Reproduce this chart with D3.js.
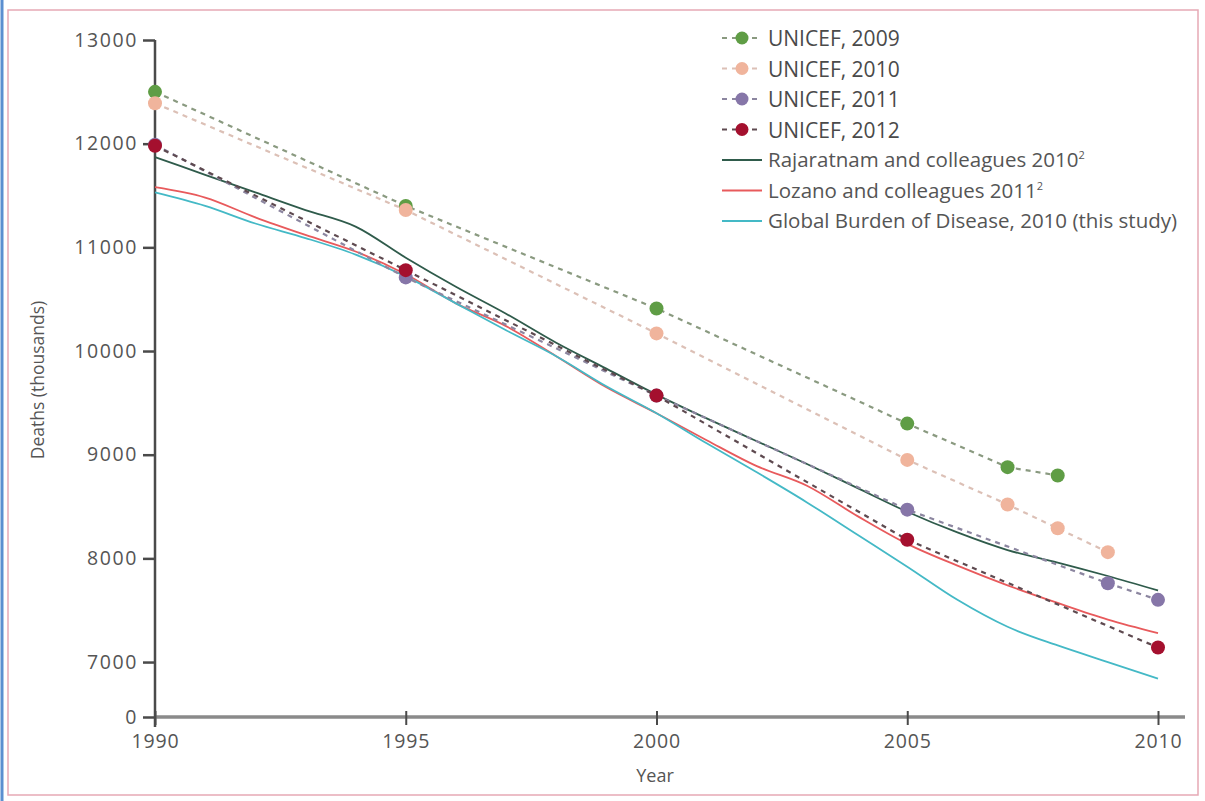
<!DOCTYPE html>
<html>
<head>
<meta charset="utf-8">
<script src="https://cdn.jsdelivr.net/npm/d3@7"></script>
<style>
  body { margin: 0; background: #fff; }
  text { font-family: "Open Sans", Lato, sans-serif; }
</style>
</head>
<body>
<div id="canvas"></div>
<script>
// data (deaths in thousands)
const years = [1990,1991,1992,1993,1994,1995,1996,1997,1998,1999,2000,2001,2002,2003,2004,2005,2006,2007,2008,2009,2010];

const unicef2009Years = [1990, 1995, 2000, 2005, 2007, 2008];
const unicef2009 = [12500, 11400, 10410, 9300, 8880, 8800];
const unicef2010Years = [1990, 1995, 2000, 2005, 2007, 2008, 2009];
const unicef2010 = [12390, 11360, 10170, 8950, 8520, 8290, 8060];
const unicef2011Years = [1990, 1995, 2000, 2005, 2009, 2010];
const unicef2011 = [11990, 10710, 9570, 8470, 7760, 7600];
const unicef2012Years = [1990, 1995, 2000, 2005, 2010];
const unicef2012 = [11980, 10780, 9570, 8180, 7140];

const rajaratnam = [11870,11700,11530,11360,11200,10900,10620,10360,10080,9830,9580,9350,9130,8910,8680,8450,8250,8080,7960,7830,7690];
const lozano = [11580,11480,11290,11120,10960,10740,10460,10240,9950,9650,9400,9140,8890,8700,8410,8140,7930,7740,7570,7410,7280];
const gbd = [11530,11400,11230,11090,10930,10720,10460,10200,9950,9660,9400,9110,8830,8540,8230,7920,7600,7340,7160,7000,6840];

const yTicks = [0, 7000, 8000, 9000, 10000, 11000, 12000, 13000];
const xTicks = [1990, 1995, 2000, 2005, 2010];
const yBreak = 6470; // where the "0" sits on the broken axis

const dashedSeries = [
  { name: "UNICEF, 2009", years: unicef2009Years, values: unicef2009, fill: "#5f9d45", line: "#8a9a80" },
  { name: "UNICEF, 2010", years: unicef2010Years, values: unicef2010, fill: "#f0b49c", line: "#dcc0b6" },
  { name: "UNICEF, 2011", years: unicef2011Years, values: unicef2011, fill: "#8676a8", line: "#8c86a0" },
  { name: "UNICEF, 2012", years: unicef2012Years, values: unicef2012, fill: "#a4102e", line: "#5e4a50" }
];
const solidSeries = [
  { name: "Rajaratnam and colleagues 2010", sup: "2", values: rajaratnam, color: "#2f5b4b" },
  { name: "Lozano and colleagues 2011", sup: "2", values: lozano, color: "#e85a5c" },
  { name: "Global Burden of Disease, 2010 (this study)", sup: "", values: gbd, color: "#44b9c6" }
];

const width = 1205, height = 801;
const svg = d3.select("#canvas").append("svg").attr("width", width).attr("height", height);

// frame
svg.append("rect").attr("x", 8).attr("y", 10).attr("width", 1190).attr("height", 785)
  .attr("fill", "none").attr("stroke", "#e6a9b5").attr("stroke-width", 1.5);
svg.append("line").attr("x1", 2).attr("x2", 2).attr("y1", 0).attr("y2", height)
  .attr("stroke", "#5b8fd0").attr("stroke-width", 3);

const x = d3.scaleLinear().domain([1990, 2010]).range([155, 1158]);
const y = d3.scaleLinear().domain([yBreak, 13000]).range([717, 40]);

// y axis
const yAxis = svg.append("g").attr("transform", "translate(155,0)")
  .call(d3.axisLeft(y)
    .tickValues(yTicks.map(d => d === 0 ? yBreak : d))
    .tickFormat(d => d === yBreak ? "0" : d)
    .tickSize(12).tickPadding(5));
yAxis.select(".domain").attr("d", `M0,${y(13000)}V727`).attr("stroke", "#4a4a4a").attr("stroke-width", 2.5);
yAxis.selectAll(".tick line").attr("stroke", "#4a4a4a").attr("stroke-width", 2.5).attr("x1", 0).attr("x2", -12);
yAxis.selectAll(".tick text").attr("fill", "#555").style("font-size", "19.5px").attr("letter-spacing", "1.6px");

// x axis
const xAxis = svg.append("g").attr("transform", "translate(0,717)")
  .call(d3.axisBottom(x).tickValues(xTicks).tickFormat(d3.format("d")).tickSize(10).tickPadding(7));
xAxis.select(".domain").attr("d", "M155,0H1185").attr("stroke", "#8a8a8a").attr("stroke-width", 3.5);
xAxis.selectAll(".tick line").attr("stroke", "#4a4a4a").attr("stroke-width", 2).attr("y1", -6).attr("y2", 8);
xAxis.selectAll(".tick text").attr("fill", "#555").style("font-size", "19.5px").attr("letter-spacing", "0.8px");

svg.append("text").attr("x", 655).attr("y", 782).attr("text-anchor", "middle")
  .attr("fill", "#555").style("font-size", "18px").text("Year");
svg.append("text").attr("transform", "translate(44,380) rotate(-90)").attr("text-anchor", "middle")
  .attr("fill", "#555").style("font-size", "17.5px").text("Deaths (thousands)");

// solid model lines
const smooth = d3.line().x((d, i) => x(years[i])).y(d => y(d)).curve(d3.curveMonotoneX);
svg.selectAll(".model").data(solidSeries).enter().append("path")
  .attr("class", "model")
  .attr("d", d => smooth(d.values))
  .attr("fill", "none").attr("stroke", d => d.color).attr("stroke-width", 1.8);

// dashed UNICEF series
const dashedLine = d3.line().x(d => x(d[0])).y(d => y(d[1]));
const ug = svg.selectAll(".unicef").data(dashedSeries).enter().append("g").attr("class", "unicef");
ug.append("path")
  .attr("d", s => dashedLine(s.years.map((yr, i) => [yr, s.values[i]])))
  .attr("fill", "none").attr("stroke", s => s.line).attr("stroke-width", 2.2)
  .attr("stroke-dasharray", "5,5");
ug.selectAll("circle").data(s => s.years.map((yr, i) => ({ yr, v: s.values[i], fill: s.fill })))
  .enter().append("circle")
  .attr("cx", d => x(d.yr)).attr("cy", d => y(d.v)).attr("r", 7)
  .attr("fill", d => d.fill);

// legend
const legend = svg.append("g").attr("transform", "translate(722,38)");
const step = 30.5;
dashedSeries.forEach((s, i) => {
  const g = legend.append("g").attr("transform", `translate(0,${i * step})`);
  g.append("line").attr("x1", 0).attr("x2", 40).attr("y1", 0).attr("y2", 0)
    .attr("stroke", s.line).attr("stroke-width", 2.2).attr("stroke-dasharray", "5,5");
  g.append("circle").attr("cx", 20).attr("cy", 0).attr("r", 6.5).attr("fill", s.fill);
  g.append("text").attr("x", 46).attr("y", 8).attr("fill", "#4a4a4a").style("font-size", "21px").text(s.name);
});
solidSeries.forEach((s, i) => {
  const g = legend.append("g").attr("transform", `translate(0,${(i + 4) * step})`);
  g.append("line").attr("x1", 0).attr("x2", 40).attr("y1", 0).attr("y2", 0)
    .attr("stroke", s.color).attr("stroke-width", 2);
  const t = g.append("text").attr("x", 46).attr("y", 7).attr("fill", "#555").style("font-size", "20.5px").text(s.name);
  if (s.sup) t.append("tspan").attr("dy", -8).style("font-size", "11px").text(s.sup);
});
</script>
</body>
</html>
